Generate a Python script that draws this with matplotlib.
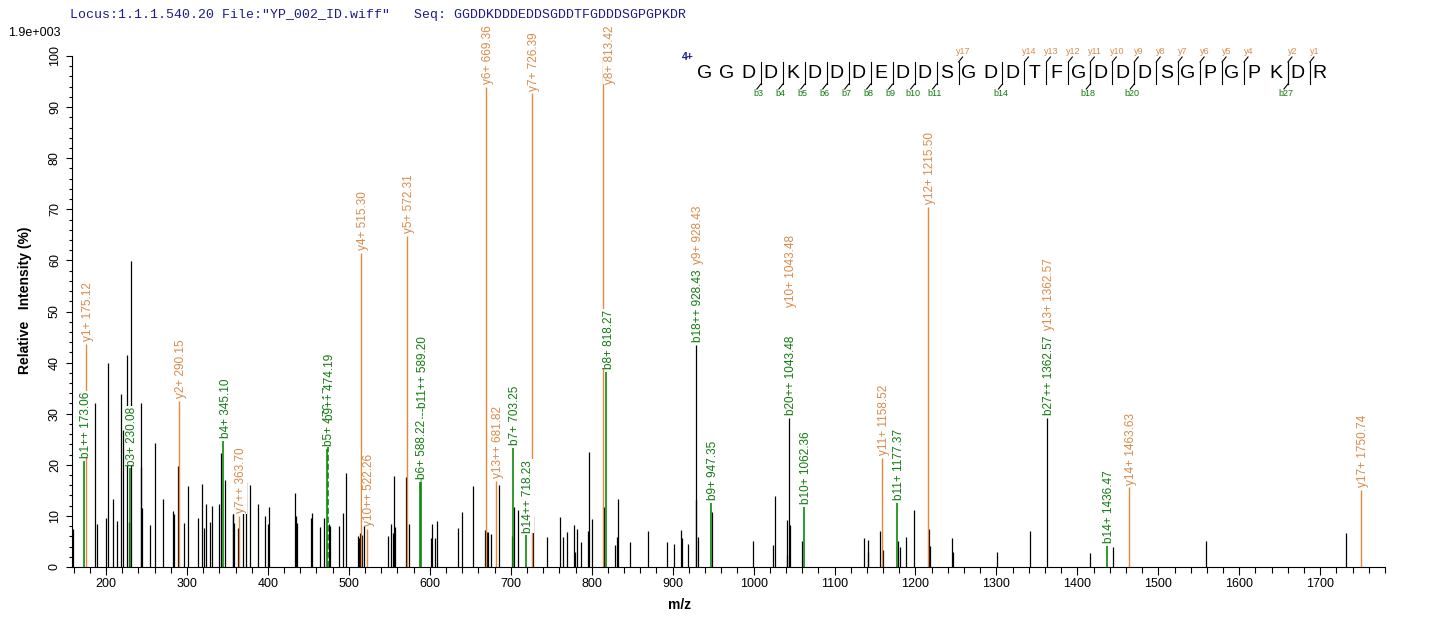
import matplotlib
matplotlib.use("Agg")
import matplotlib.pyplot as plt
from matplotlib.ticker import MultipleLocator

plt.rcParams['font.family'] = ['Liberation Sans', 'DejaVu Sans']

# unassigned peaks (black)
peak_mz = [159.5, 186.5, 189.5, 199.5, 203.0, 209.0, 213.0, 218.0, 221.5, 226.5,
           228.5, 231.5, 243.0, 243.8, 244.5, 254.5, 261.0, 270.5, 283.0, 284.0,
           288.5, 296.0, 301.0, 314.0, 318.0, 320.5, 323.0, 328.0, 331.5, 339.0,
           341.5, 346.5, 356.5, 357.5, 358.5, 363.6, 369.7, 373.4, 378.3, 388.0,
           396.7, 400.4, 401.6, 433.7, 434.5, 435.5, 453.0, 454.0, 464.0, 469.0,
           475.0, 477.0, 488.0, 493.0, 497.0, 511.5, 512.5, 514.0, 516.5, 519.0,
           548.0, 551.5, 555.0, 556.3, 557.5, 571.0, 574.0, 602.0, 603.2, 607.0,
           609.4, 635.3, 640.2, 653.0, 668.0, 670.5, 672.0, 676.0, 686.0, 702.0,
           704.0, 709.5, 728.0, 744.5, 761.2, 765.0, 770.0, 778.6, 779.6, 782.3,
           787.3, 796.0, 797.2, 800.8, 815.8, 829.3, 831.7, 833.0, 847.7, 870.0,
           893.5, 902.2, 910.7, 911.7, 919.5, 929.3, 931.8, 948.0, 998.7, 1023.4,
           1026.3, 1040.7, 1041.4, 1044.4, 1059.3, 1135.8, 1140.8, 1141.6, 1155.7, 1159.4,
           1178.0, 1181.2, 1187.8, 1197.7, 1216.4, 1217.4, 1244.7, 1245.8, 1300.5, 1341.0,
           1415.5, 1444.5, 1559.0, 1732.0]
peak_int = [7.4, 32.0, 8.4, 9.6, 40.0, 13.3, 9.0, 33.9, 26.8, 41.4,
            8.8, 59.9, 19.5, 32.0, 11.5, 8.2, 24.2, 13.3, 11.0, 10.4,
            19.7, 8.6, 15.9, 9.6, 16.2, 7.7, 12.4, 8.8, 12.0, 12.3,
            22.4, 17.0, 10.4, 10.4, 8.6, 7.7, 10.6, 16.7, 16.1, 12.3,
            10.0, 8.4, 11.8, 14.4, 9.9, 8.6, 9.5, 10.6, 7.8, 9.6,
            8.4, 8.0, 8.0, 10.6, 18.4, 6.0, 5.6, 6.6, 6.2, 8.4,
            6.0, 8.4, 6.6, 17.8, 7.8, 17.6, 8.4, 5.7, 8.5, 5.6,
            9.0, 7.6, 10.8, 15.9, 7.3, 6.9, 6.8, 6.5, 16.1, 6.0,
            11.8, 11.2, 10.0, 5.9, 9.8, 5.9, 6.9, 8.2, 2.9, 7.4,
            4.8, 7.1, 22.6, 9.3, 11.8, 4.3, 5.8, 13.3, 4.9, 7.0,
            4.9, 4.5, 7.3, 5.6, 4.5, 13.1, 5.9, 10.8, 5.0, 4.4,
            13.9, 9.2, 2.4, 8.2, 5.0, 5.7, 5.3, 3.0, 7.1, 3.4,
            5.0, 4.0, 5.8, 11.2, 7.5, 4.1, 5.6, 3.0, 2.9, 7.0,
            2.7, 3.9, 5.0, 6.7]

# y ions (orange)
y_mz = [175.12, 290.15, 363.70, 515.30, 522.26, 572.31, 669.36, 681.82,
        726.39, 813.42, 1158.52, 1215.50, 1463.63, 1750.74]
y_int = [43.7, 32.5, 10.0, 61.5, 7.5, 64.8, 94.0, 16.8,
         92.7, 100.0, 21.4, 70.4, 15.6, 15.1]
y_lab = ["y1+", "y2+", "y7++", "y4+", "y10++", "y5+", "y6+", "y13++",
         "y7+", "y8+", "y11+", "y12+", "y14+", "y17+"]

# b ions (green)
b_mz = [173.06, 230.08, 345.10, 473.17, 474.19, 588.22, 589.20, 703.25,
        718.23, 818.27, 947.35, 1062.36, 1177.37, 1436.47]
b_int = [20.8, 19.3, 24.7, 23.1, 28.3, 16.7, 16.7, 23.3,
         6.2, 38.2, 12.6, 11.8, 12.6, 4.1]
b_lab = ["b1++", "b3+", "b4+", "b5+", "b9++", "b6+", "b11++", "b7+",
         "b14++", "b8+", "b9+", "b10+", "b11+", "b14+"]

# black peaks carrying two labels
k_mz = [928.43, 1043.48, 1362.57]
k_int = [43.5, 29.2, 29.2]
k_blab = ["b18++", "b20++", "b27++"]
k_ylab = ["y9+", "y10+", "y13+"]

sequence = "GGDDKDDDEDDSGDDTFGDDDSGPGPKDR"
b_sites = [3, 4, 5, 6, 7, 8, 9, 10, 11, 14, 18, 20, 27]
y_sites = [17, 14, 13, 12, 11, 10, 9, 8, 7, 6, 5, 4, 2, 1]

ORANGE = '#E58A3C'
ORANGE_T = '#D98A4A'
GREEN = '#0A8A0A'
GREEN_T = '#117A11'
NAVY = '#1C1C8C'

W, H = 1436, 626
fig = plt.figure(figsize=(W / 100, H / 100), dpi=100)
ax = fig.add_axes([72 / W, 59 / H, 1313 / W, 511 / H])

ax.vlines(peak_mz, 0, peak_int, color='black', lw=0.9)
ax.vlines(k_mz, 0, k_int, color='black', lw=0.9)
for m, v, lab in zip(y_mz, y_int, y_lab):
    ax.vlines(m, 0, v, color=ORANGE, lw=1.0)
for m, v, lab in zip(b_mz, b_int, b_lab):
    ax.vlines(m, 0, v, color=GREEN, lw=1.2, linestyles='--' if lab == 'b9++' else '-')


def tag(m, v, text, color, lift=2, dx=1.5, z=4, leader=False):
    kw = dict(xy=(m, v), xytext=(dx, lift), textcoords='offset points',
              rotation=90, ha='center', va='bottom', fontsize=8.5, color=color,
              zorder=z, annotation_clip=False,
              bbox=dict(facecolor='white', edgecolor='none', pad=0.3))
    if leader:
        kw['arrowprops'] = dict(arrowstyle='-', linestyle='--', color=GREEN, lw=0.6,
                                shrinkA=0, shrinkB=0)
    ax.annotate(text, **kw)


for m, v, lab in zip(y_mz, y_int, y_lab):
    if v >= 99:
        # no room above the tallest peak: label sits beside the line
        tag(m, v, f"{lab} {m:.2f}", ORANGE_T, lift=-20, dx=5)
    else:
        tag(m, v, f"{lab} {m:.2f}", ORANGE_T)
for m, v, lab in zip(b_mz, b_int, b_lab):
    if lab == 'b11++':
        tag(m, v, f"{lab} {m:.2f}", GREEN_T, lift=53, z=3, leader=True)
    else:
        tag(m, v, f"{lab} {m:.2f}", GREEN_T, z=5 if lab != 'b5+' else 3)
for m, v, bl, yl, lift in zip(k_mz, k_int, k_blab, k_ylab, [58, 80, 63]):
    tag(m, v, f"{bl} {m:.2f}", GREEN_T)
    tag(m, v, f"{yl} {m:.2f}", ORANGE_T, lift=lift)

ax.set_xlim(158, 1780)
ax.set_ylim(0, 100)
ax.spines['top'].set_visible(False)
ax.spines['right'].set_visible(False)
ax.spines['left'].set_bounds(0, 100)
ax.xaxis.set_major_locator(MultipleLocator(100))
ax.xaxis.set_minor_locator(MultipleLocator(20))
ax.yaxis.set_major_locator(MultipleLocator(10))
ax.yaxis.set_minor_locator(MultipleLocator(2))
ax.set_xticks([t for t in range(200, 1800, 100)])
ax.tick_params(axis='x', which='major', length=6, width=0.8, labelsize=9, pad=2)
ax.tick_params(axis='x', which='minor', length=4, width=0.8)
ax.tick_params(axis='y', which='major', length=4, width=0.8, labelsize=9, pad=4,
               labelrotation=90)
ax.tick_params(axis='y', which='minor', length=2.5, width=0.8)
for t in ax.get_yticklabels():
    t.set_va('center')

fig.text(25 / W, 1 - 300 / H, "Relative   Intensity (%)", rotation=90,
         ha='center', va='center', fontsize=10, fontweight='bold')
fig.text(680 / W, 1 - 605 / H, "m/z", ha='center', va='center',
         fontsize=10, fontweight='bold')
fig.text(8 / W, 1 - 33 / H, "1.9e+003", ha='left', va='center', fontsize=9)
fig.text(70 / W, 1 - 15 / H,
         'Locus:1.1.1.540.20 File:"YP_002_ID.wiff"   Seq: ' + sequence,
         ha='left', va='center', fontsize=9.5, family='Liberation Mono', color=NAVY)

# peptide sequence with fragment marks, in pixel coordinates
ov = fig.add_axes([0, 0, 1, 1])
ov.set_xlim(0, W)
ov.set_ylim(H, 0)
ov.axis('off')
ov.patch.set_visible(False)
x0, dx, yl = 705, 21.96, 73
for i, ch in enumerate(sequence):
    ov.text(x0 + i * dx, yl, ch, ha='center', va='center', fontsize=14)
ov.text(688, 57, "4+", ha='center', va='center', fontsize=7.5,
        fontweight='bold', color=NAVY)
n = len(sequence)
for s in b_sites:
    xc = x0 + (s - 0.5) * dx + 1
    ov.plot([xc, xc], [62, 84], color='black', lw=0.8)
    ov.plot([xc, xc - 4], [84, 89], color='black', lw=0.8)
    ov.text(xc - 2, 93, f"b{s}", ha='center', va='center', fontsize=6.5, color=GREEN_T)
for s in y_sites:
    xc = x0 + (n - s - 0.5) * dx + 1
    ov.plot([xc, xc], [62, 84], color='black', lw=0.8)
    ov.plot([xc, xc + 4], [62, 57], color='black', lw=0.8)
    ov.text(xc + 5, 52, f"y{s}", ha='center', va='center', fontsize=6.5, color=ORANGE_T)

fig.savefig("out.png", dpi=100)
